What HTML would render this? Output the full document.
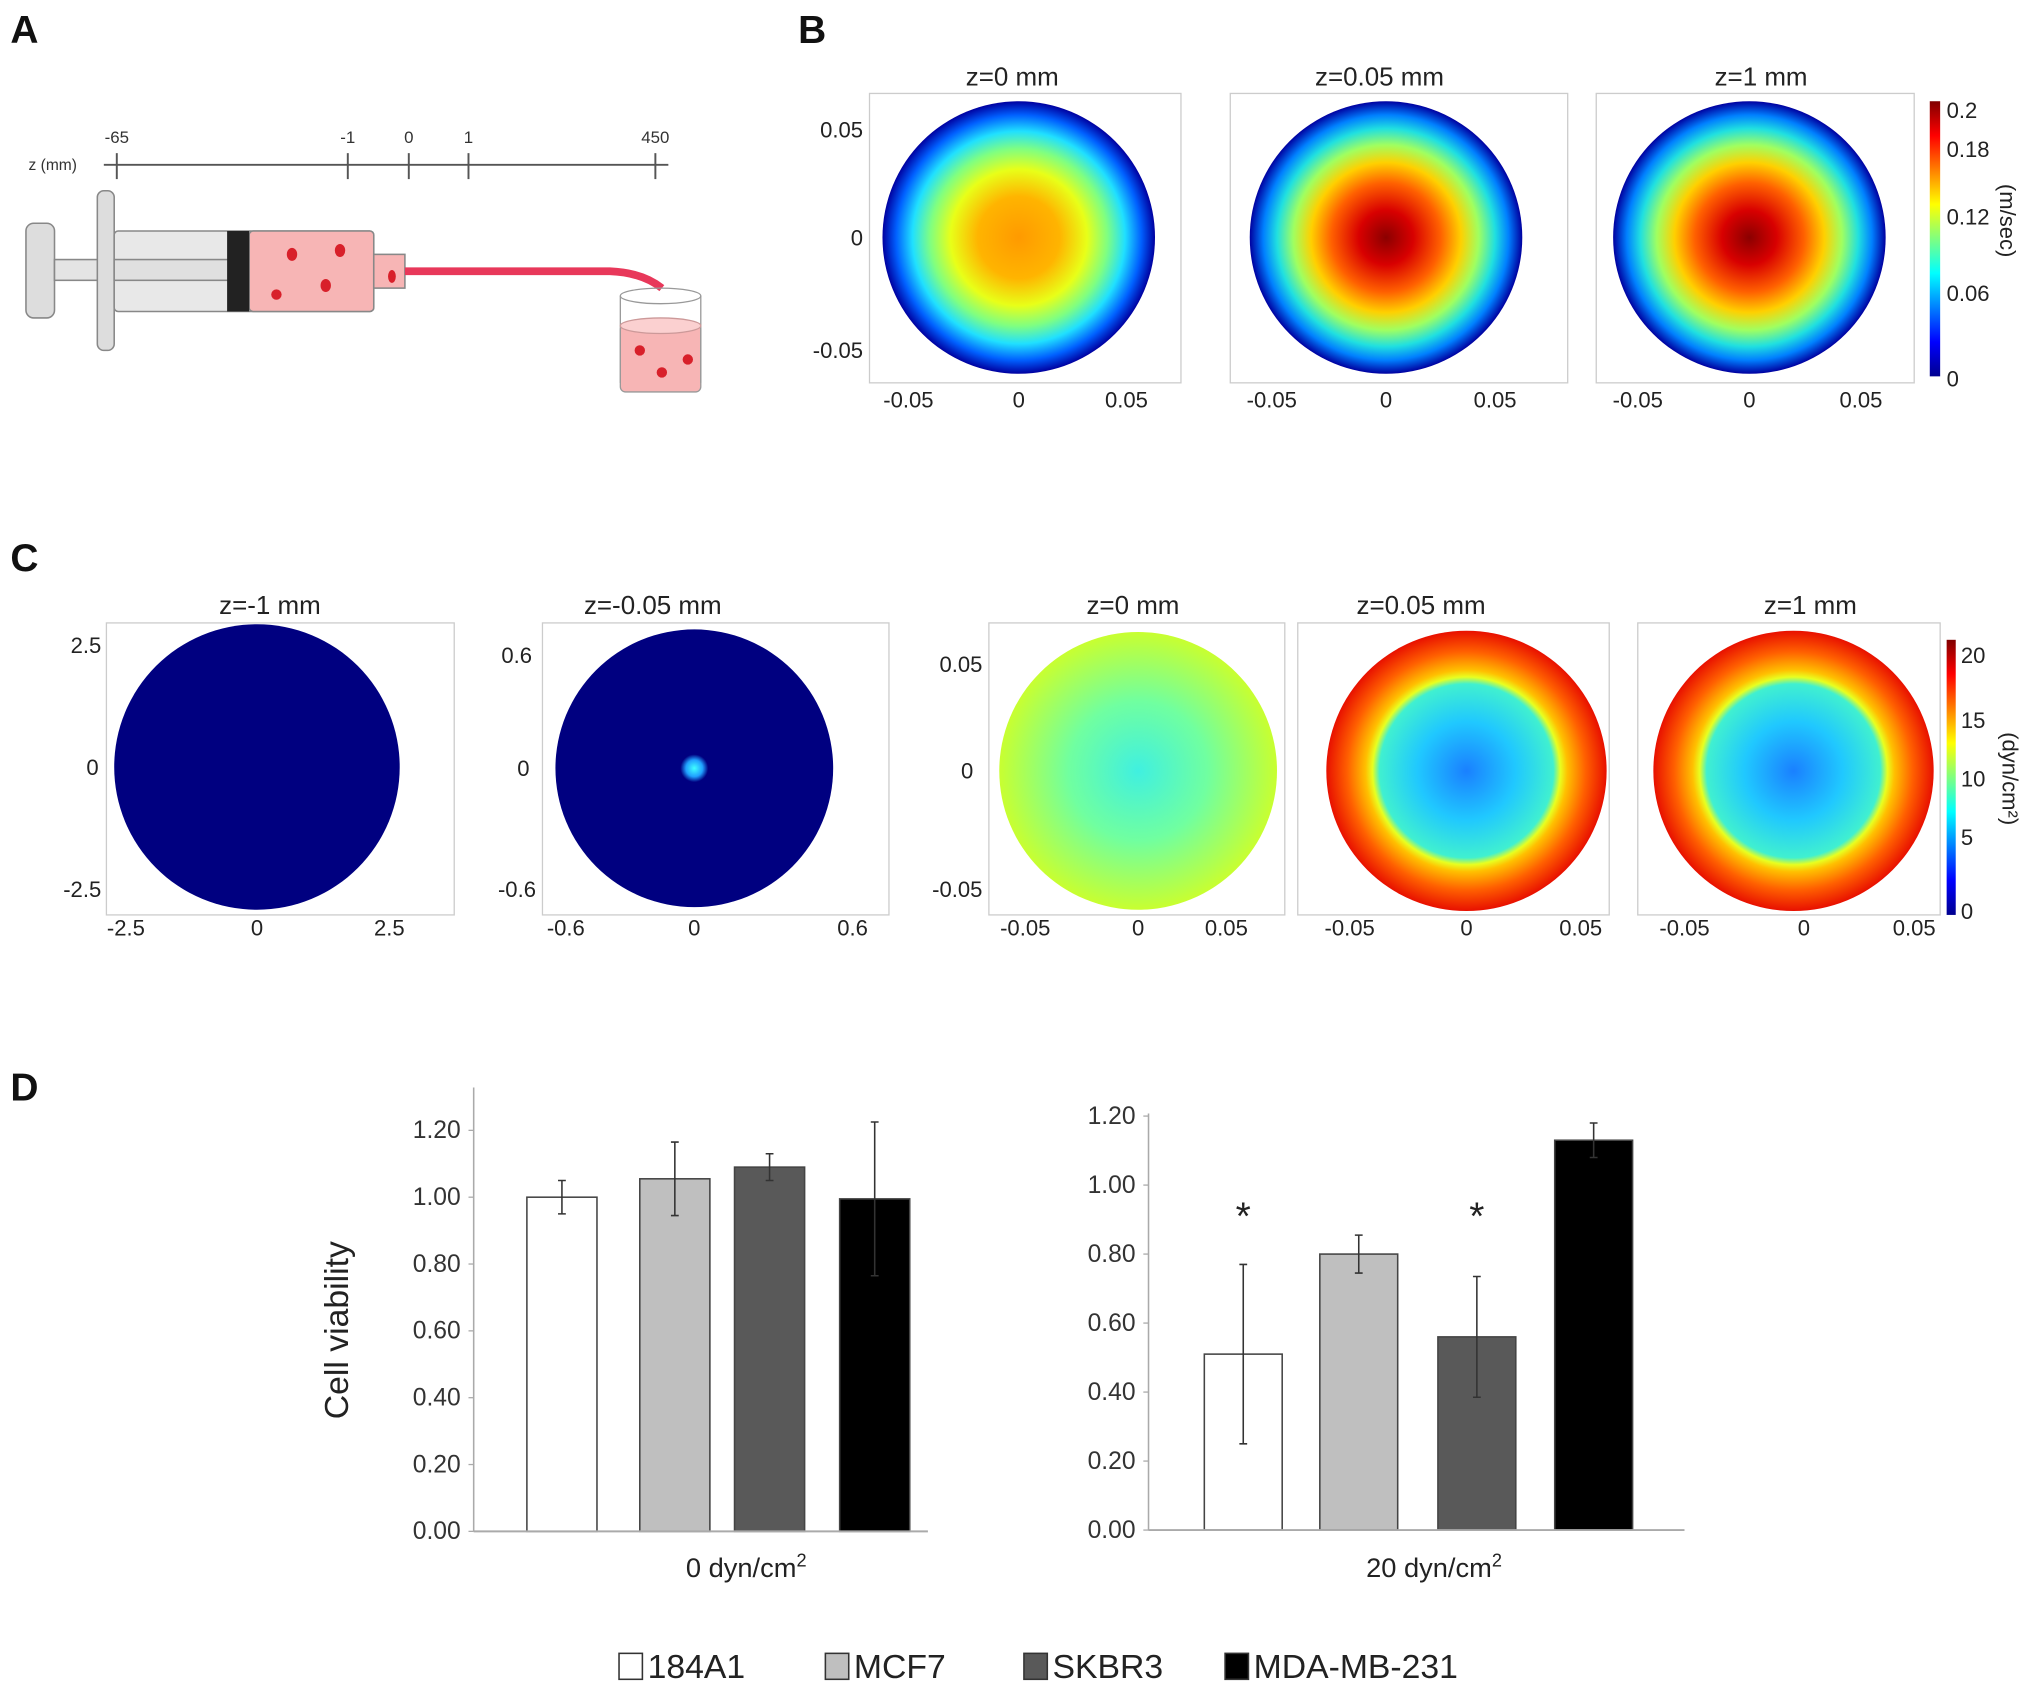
<!DOCTYPE html>
<html><head><meta charset="utf-8">
<style>
html,body{margin:0;padding:0;background:#fff;}
svg{display:block;font-family:"Liberation Sans",sans-serif;}
.tk{font-size:17px;fill:#222;font-family:"Liberation Sans",sans-serif;}
.tt{font-size:20px;fill:#222;}
.pl{font-size:30px;font-weight:bold;fill:#111;}
.bx{fill:none;stroke:#ccc;stroke-width:1;}
</style></head>
<body>
<svg id="fig" width="2031" height="1691" viewBox="0 0 1565 1303" xmlns="http://www.w3.org/2000/svg">
<defs>
<radialGradient id="gB1"><stop offset="0" stop-color="#ff9a00"/><stop offset="0.3" stop-color="#ffb400"/><stop offset="0.5" stop-color="#e8ff18"/><stop offset="0.65" stop-color="#80ff80"/><stop offset="0.78" stop-color="#20e0ff"/><stop offset="0.9" stop-color="#0060ff"/><stop offset="1" stop-color="#0000a0"/></radialGradient>
<radialGradient id="gB2"><stop offset="0" stop-color="#8b0000"/><stop offset="0.2" stop-color="#d80000"/><stop offset="0.4" stop-color="#ff6000"/><stop offset="0.55" stop-color="#ffd000"/><stop offset="0.68" stop-color="#a0ff60"/><stop offset="0.8" stop-color="#20e0e0"/><stop offset="0.9" stop-color="#0080ff"/><stop offset="1" stop-color="#0000a0"/></radialGradient>
<radialGradient id="gC2"><stop offset="0" stop-color="#40ffff"/><stop offset="0.06" stop-color="#20a0ff"/><stop offset="0.1" stop-color="#000080"/><stop offset="1" stop-color="#000080"/></radialGradient>
<radialGradient id="gC3"><stop offset="0" stop-color="#40f0e0"/><stop offset="0.5" stop-color="#70ffa0"/><stop offset="1" stop-color="#c8ff30"/></radialGradient>
<radialGradient id="gC4"><stop offset="0" stop-color="#1a80ff"/><stop offset="0.35" stop-color="#20c8ff"/><stop offset="0.62" stop-color="#40f0d0"/><stop offset="0.67" stop-color="#e8ff20"/><stop offset="0.72" stop-color="#ffc000"/><stop offset="0.85" stop-color="#ff6000"/><stop offset="1" stop-color="#e81000"/></radialGradient>
<linearGradient id="jetV" x1="0" y1="1" x2="0" y2="0"><stop offset="0" stop-color="#00008f"/><stop offset="0.125" stop-color="#0000ff"/><stop offset="0.375" stop-color="#00ffff"/><stop offset="0.625" stop-color="#ffff00"/><stop offset="0.875" stop-color="#ff0000"/><stop offset="1" stop-color="#800000"/></linearGradient>
</defs>

<g>
<text class="pl" x="8" y="33">A</text>
<text x="22" y="131" font-size="12" fill="#333">z (mm)</text>
<line x1="80" y1="127" x2="515" y2="127" stroke="#555" stroke-width="1.5"/>
<g stroke="#555" stroke-width="1.5"><line x1="90" y1="118" x2="90" y2="138"/><line x1="268" y1="118" x2="268" y2="138"/><line x1="315" y1="118" x2="315" y2="138"/><line x1="361" y1="118" x2="361" y2="138"/><line x1="505" y1="118" x2="505" y2="138"/></g>
<g font-size="13" fill="#333" text-anchor="middle"><text x="90" y="110">-65</text><text x="268" y="110">-1</text><text x="315" y="110">0</text><text x="361" y="110">1</text><text x="505" y="110">450</text></g>
<g stroke="#888" stroke-width="1.2">
<rect x="20" y="172" width="22" height="73" rx="6" fill="#ddd"/>
<rect x="42" y="200" width="40" height="16" fill="#e4e4e4"/>
<rect x="75" y="147" width="13" height="123" rx="5" fill="#ddd"/>
<rect x="88" y="178" width="200" height="62" rx="3" fill="#e8e8e8"/>
<rect x="88" y="200" width="90" height="16" fill="#e0e0e0"/>
<rect x="192" y="178" width="96" height="62" rx="3" fill="#f7b5b5"/>
<rect x="175" y="178" width="17" height="62" fill="#222" stroke="none"/>
<rect x="288" y="196" width="24" height="26" fill="#f7b5b5"/>
</g>
<g fill="#d8202a"><ellipse cx="225" cy="196" rx="4" ry="5"/><ellipse cx="262" cy="193" rx="4" ry="5"/><ellipse cx="251" cy="220" rx="4" ry="5"/><ellipse cx="213" cy="227" rx="4" ry="4"/><ellipse cx="302" cy="213" rx="3" ry="5"/></g>
<path d="M312 209 L470 209 Q495 210 510 222" fill="none" stroke="#e8385a" stroke-width="6"/>
<g>
<rect x="478" y="250" width="62" height="52" rx="4" fill="#f7b5b5" stroke="#999"/>
<path d="M478 228 L478 295 M540 228 L540 295" stroke="#999"/>
<ellipse cx="509" cy="228" rx="31" ry="6" fill="none" stroke="#999"/>
<ellipse cx="509" cy="251" rx="31" ry="6" fill="#fbd0d0" stroke="#c99"/>
<g fill="#d8202a"><circle cx="493" cy="270" r="4"/><circle cx="530" cy="277" r="4"/><circle cx="510" cy="287" r="4"/></g>
</g>
</g>

<g>
<text class="pl" x="615" y="33">B</text>
<rect class="bx" x="670" y="72" width="240" height="223"/>
<rect class="bx" x="948" y="72" width="260" height="223"/>
<rect class="bx" x="1230" y="72" width="245" height="223"/>
<text class="tt" x="780" y="66" text-anchor="middle">z=0 mm</text>
<text class="tt" x="1063" y="66" text-anchor="middle">z=0.05 mm</text>
<text class="tt" x="1357" y="66" text-anchor="middle">z=1 mm</text>
<circle cx="785" cy="183" r="105" fill="url(#gB1)"/>
<circle cx="1068" cy="183" r="105" fill="url(#gB2)"/>
<circle cx="1348" cy="183" r="105" fill="url(#gB2)"/>
<g text-anchor="end"><text x="665" y="106" class="tk">0.05</text><text x="665" y="189" class="tk">0</text><text x="665" y="276" class="tk">-0.05</text></g>
<g text-anchor="middle"><text class="tk" x="700" y="314">-0.05</text><text class="tk" x="785" y="314">0</text><text class="tk" x="868" y="314">0.05</text>
<text class="tk" x="980" y="314">-0.05</text><text class="tk" x="1068" y="314">0</text><text class="tk" x="1152" y="314">0.05</text>
<text class="tk" x="1262" y="314">-0.05</text><text class="tk" x="1348" y="314">0</text><text class="tk" x="1434" y="314">0.05</text></g>
<rect x="1487" y="78" width="8" height="212" fill="url(#jetV)"/>
<g><text class="tk" x="1500" y="91">0.2</text><text class="tk" x="1500" y="121">0.18</text><text class="tk" x="1500" y="173">0.12</text><text class="tk" x="1500" y="232">0.06</text><text class="tk" x="1500" y="298">0</text></g>
<text class="tk" transform="translate(1541,170) rotate(90)" text-anchor="middle">(m/sec)</text>
</g>

<g>
<text class="pl" x="8" y="440">C</text>
<rect class="bx" x="82" y="480" width="268" height="225"/>
<rect class="bx" x="418" y="480" width="267" height="225"/>
<rect class="bx" x="762" y="480" width="228" height="225"/>
<rect class="bx" x="1000" y="480" width="240" height="225"/>
<rect class="bx" x="1262" y="480" width="233" height="225"/>
<text class="tt" x="208" y="473" text-anchor="middle">z=-1 mm</text>
<text class="tt" x="503" y="473" text-anchor="middle">z=-0.05 mm</text>
<text class="tt" x="873" y="473" text-anchor="middle">z=0 mm</text>
<text class="tt" x="1095" y="473" text-anchor="middle">z=0.05 mm</text>
<text class="tt" x="1395" y="473" text-anchor="middle">z=1 mm</text>
<circle cx="198" cy="591" r="110" fill="#000080"/>
<circle cx="535" cy="592" r="107" fill="url(#gC2)"/>
<circle cx="877" cy="594" r="107" fill="url(#gC3)"/>
<circle cx="1130" cy="594" r="108" fill="url(#gC4)"/>
<circle cx="1382" cy="594" r="108" fill="url(#gC4)"/>
<g text-anchor="end"><text class="tk" x="78" y="503">2.5</text><text class="tk" x="76" y="597">0</text><text class="tk" x="78" y="691">-2.5</text>
<text class="tk" x="410" y="511">0.6</text><text class="tk" x="408" y="598">0</text><text class="tk" x="413" y="691">-0.6</text>
<text class="tk" x="757" y="518">0.05</text><text class="tk" x="750" y="600">0</text><text class="tk" x="757" y="691">-0.05</text></g>
<g text-anchor="middle"><text class="tk" x="97" y="721">-2.5</text><text class="tk" x="198" y="721">0</text><text class="tk" x="300" y="721">2.5</text>
<text class="tk" x="436" y="721">-0.6</text><text class="tk" x="535" y="721">0</text><text class="tk" x="657" y="721">0.6</text>
<text class="tk" x="790" y="721">-0.05</text><text class="tk" x="877" y="721">0</text><text class="tk" x="945" y="721">0.05</text>
<text class="tk" x="1040" y="721">-0.05</text><text class="tk" x="1130" y="721">0</text><text class="tk" x="1218" y="721">0.05</text>
<text class="tk" x="1298" y="721">-0.05</text><text class="tk" x="1390" y="721">0</text><text class="tk" x="1475" y="721">0.05</text></g>
<rect x="1500" y="493" width="7" height="212" fill="url(#jetV)"/>
<g><text class="tk" x="1511" y="511">20</text><text class="tk" x="1511" y="561">15</text><text class="tk" x="1511" y="606">10</text><text class="tk" x="1511" y="651">5</text><text class="tk" x="1511" y="708">0</text></g>
<text class="tk" transform="translate(1543,600) rotate(90)" text-anchor="middle">(dyn/cm²)</text>
</g>

<g>
<text class="pl" x="8" y="848">D</text>
<text transform="translate(268,1025) rotate(-90)" text-anchor="middle" font-size="26" fill="#222">Cell viability</text>
<g id="barsL"></g><g id="barsR"></g>
<text x="575" y="1215" text-anchor="middle" font-size="21" fill="#222">0 dyn/cm<tspan dy="-8" font-size="14">2</tspan></text>
<text x="1105" y="1215" text-anchor="middle" font-size="21" fill="#222">20 dyn/cm<tspan dy="-8" font-size="14">2</tspan></text>
<g id="legend"></g>
</g>
</svg>
<script>
const categories = ["184A1","MCF7","SKBR3","MDA-MB-231"];
const fills = ["#ffffff","#bfbfbf","#595959","#000000"];
const yTicks = [0,0.2,0.4,0.6,0.8,1.0,1.2];
const values0 = [1.00,1.055,1.09,0.995];
const errors0 = [0.05,0.11,0.04,0.23];
const values20 = [0.51,0.80,0.56,1.13];
const errors20 = [0.26,0.055,0.175,0.05];
const sig20 = [true,false,true,false];

const NS="http://www.w3.org/2000/svg";
function mk(tag,attrs,parent){const e=document.createElementNS(NS,tag);for(const k in attrs)e.setAttribute(k,attrs[k]);parent.appendChild(e);return e;}

function drawChart(g, vals, errs, sig, ax){
  const y = v => ax.y0 - v*(ax.y0-ax.y12)/1.2;
  const axisY = mk('line',{x1:ax.x,y1:ax.top,x2:ax.x,y2:ax.y0,stroke:'#aaa','stroke-width':1.2},g);
  
  
  yTicks.forEach(t=>{
    const tl=mk('text',{x:ax.x-10,y:y(t)+6,'text-anchor':'end','font-size':19,fill:'#333'},g);
    tl.textContent=t.toFixed(2);
    
    
    mk('line',{x1:ax.x-4,y1:y(t),x2:ax.x,y2:y(t),stroke:'#aaa'},g);
  });
  vals.forEach((v,i)=>{
    const x0=ax.bx[i];
    const b=mk('rect',{x:x0,y:y(v),width:ax.bw,height:ax.y0-y(v),fill:fills[i],stroke:'#444','stroke-width':1.2},g);
    
    
    const cx=x0+ax.bw/2;
    const e=mk('path',{d:`M${cx} ${y(v+errs[i])}V${y(v-errs[i])}M${cx-3} ${y(v+errs[i])}H${cx+3}M${cx-3} ${y(v-errs[i])}H${cx+3}`,stroke:'#333','stroke-width':1.2,fill:'none'},g);
    
    
    if(sig && sig[i]){
      const s=mk('text',{x:cx,y:y(0.86)-3,'text-anchor':'middle','font-size':30,fill:'#222'},g);
      s.textContent='*';
      
      
    }
  });
  const xa=mk('line',{x1:ax.x,y1:ax.y0,x2:ax.xEnd,y2:ax.y0,stroke:'#aaa','stroke-width':1.5},g);
  
  
}
drawChart(document.getElementById('barsL'),values0,errors0,null,{x:365,top:838,y0:1180,y12:871,xEnd:715,bx:[406,493,566,647],bw:54});
drawChart(document.getElementById('barsR'),values20,errors20,sig20,{x:885,top:858,y0:1179,y12:860,xEnd:1298,bx:[928,1017,1108,1198],bw:60});

const lg=document.getElementById('legend');
const lx=[477,636,789,944];
categories.forEach((c,i)=>{
  const r=mk('rect',{x:lx[i],y:1274,width:18,height:20,fill:fills[i],stroke:'#333','stroke-width':1.2},lg);
  
  
  const t=mk('text',{x:lx[i]+22,y:1293,'font-size':26,fill:'#222'},lg);
  t.textContent=c;
  
  
});
</script>
</body></html>
